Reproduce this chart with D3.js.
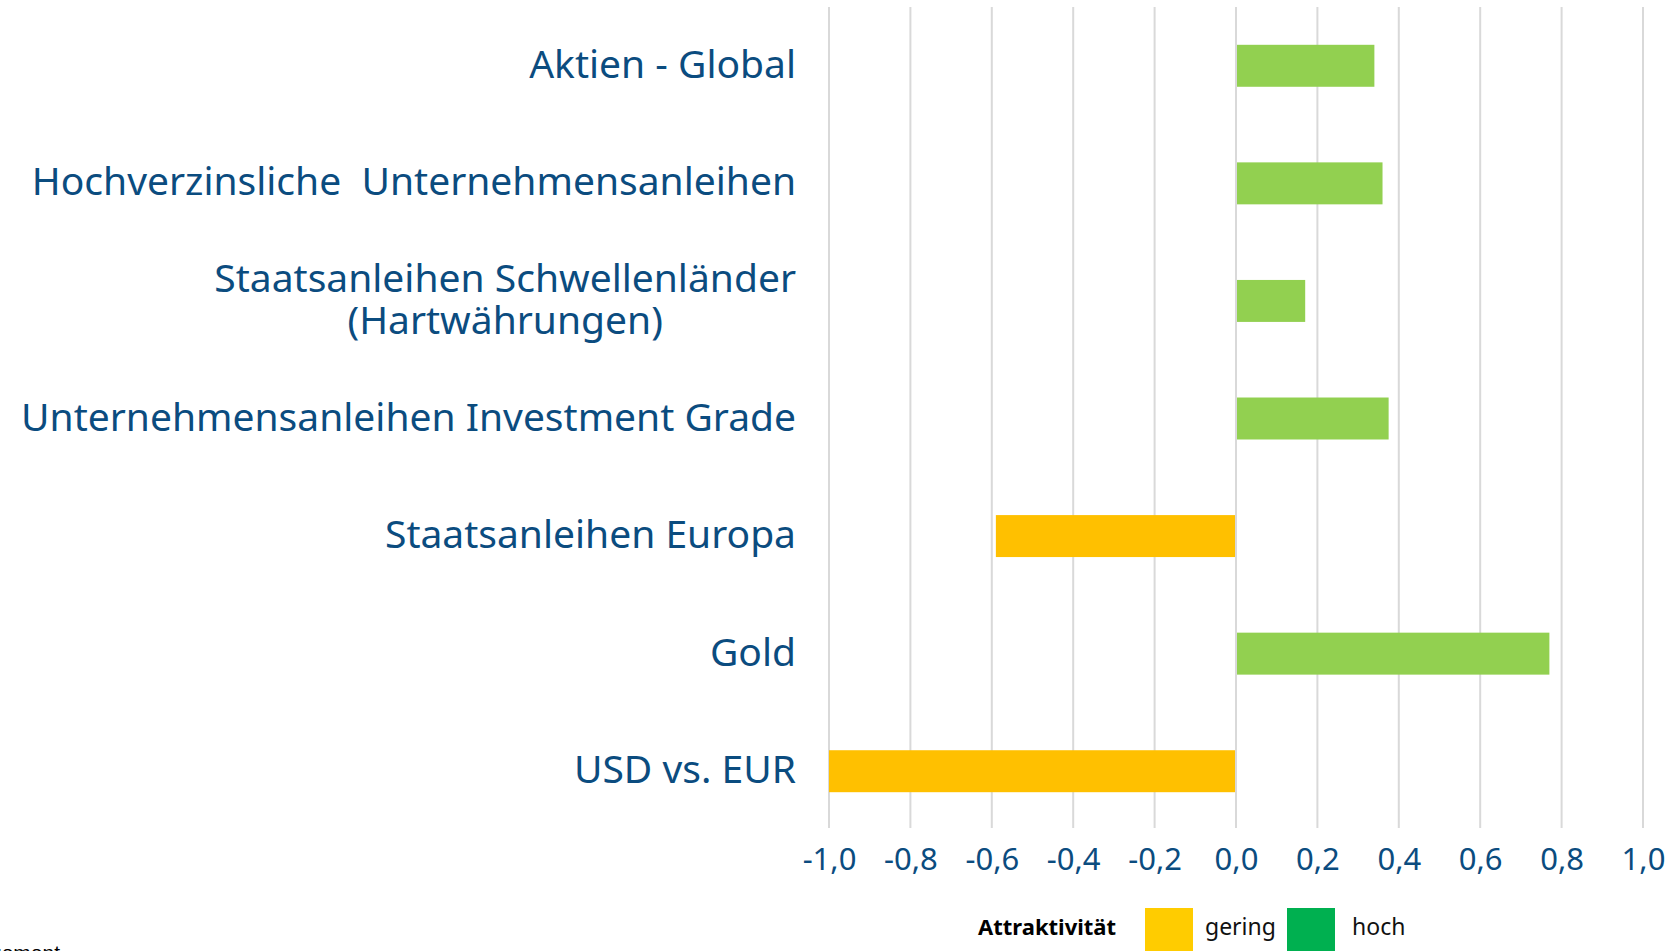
<!DOCTYPE html>
<html>
<head>
<meta charset="utf-8">
<script src="https://cdn.jsdelivr.net/npm/d3@7"></script>
<style>
  body { margin: 0; background: #fff; }
  svg { display: block; }
</style>
</head>
<body>
<div id="canvas"></div>
<script>
// Daten
const categories = [
  ["Aktien - Global"],
  ["Hochverzinsliche\u00a0 Unternehmensanleihen"],
  ["Staatsanleihen Schwellenländer", "(Hartwährungen)"],
  ["Unternehmensanleihen Investment Grade"],
  ["Staatsanleihen Europa"],
  ["Gold"],
  ["USD vs. EUR"]
];
const values = [0.34, 0.36, 0.17, 0.375, -0.59, 0.77, -1.0];
const tickValues = [-1, -0.8, -0.6, -0.4, -0.2, 0, 0.2, 0.4, 0.6, 0.8, 1];
const legendItems = ["gering", "hoch"];

const width = 1670;
const height = 951;
const blue = "#0b4c7f";
const font = "'Noto Sans', 'Open Sans', sans-serif";

const svg = d3.select("#canvas").append("svg")
  .attr("width", width)
  .attr("height", height);

const x = d3.scaleLinear()
  .domain([-1, 1])
  .range([829, 1643]);

const y = d3.scaleBand()
  .domain(d3.range(categories.length))
  .range([7, 830])
  .paddingInner(0.643)
  .paddingOuter(0.3215);

const de = d3.formatLocale({decimal: ",", thousands: ".", grouping: [3], currency: ["", "€"], minus: "-"});
const fmt = de.format(".1f");

// Gitterlinien
svg.append("g")
  .selectAll("line")
  .data(tickValues)
  .join("line")
  .attr("x1", d => x(d))
  .attr("x2", d => x(d))
  .attr("y1", 7)
  .attr("y2", 828)
  .attr("stroke", "#d9d9d9")
  .attr("stroke-width", 2);

// Balken
svg.append("g")
  .selectAll("rect")
  .data(values)
  .join("rect")
  .attr("x", d => d < 0 ? x(d) : x(0) + 1)
  .attr("y", (d, i) => y(i))
  .attr("width", d => Math.abs(x(d) - x(0)) - 1)
  .attr("height", y.bandwidth())
  .attr("fill", d => d < 0 ? "#ffc000" : "#92d050");

// x-Achse
const xAxis = svg.append("g")
  .attr("transform", "translate(0,828)")
  .call(d3.axisBottom(x).tickValues(tickValues).tickFormat(fmt).tickSize(0).tickPadding(20));
xAxis.select(".domain").remove();
xAxis.selectAll("text")
  .attr("fill", blue)
  .style("font-family", font)
  .style("font-size", "31px");

// Kategorien
const labelRight = 796;
const fontSize = 39;
const labels = svg.append("g")
  .selectAll("text")
  .data(categories)
  .join("text")
  .attr("fill", blue)
  .style("font-family", font)
  .style("font-size", fontSize + "px")
  .attr("text-anchor", "middle");

labels.each(function(lines, i) {
  const t = d3.select(this);
  const c = y(i) + y.bandwidth() / 2;
  const lh = 42;
  const y0 = c - (lines.length - 1) * lh / 2 + 12;
  lines.forEach((s, j) => {
    t.append("tspan").attr("y", y0 + j * lh).text(s);
  });
  let w = 0;
  t.selectAll("tspan").each(function() { w = Math.max(w, this.getComputedTextLength()); });
  t.selectAll("tspan").attr("x", labelRight - w / 2);
});

// Legende
const legend = svg.append("g");
legend.append("text")
  .attr("x", 978)
  .attr("y", 935)
  .attr("font-weight", "bold")
  .style("font-family", font)
  .style("font-size", "22px")
  .text("Attraktivität");
const legendColors = ["#ffcc00", "#00b050"];
const legendX = [1145, 1287];
legendItems.forEach((name, i) => {
  legend.append("rect")
    .attr("x", legendX[i])
    .attr("y", 908)
    .attr("width", 48)
    .attr("height", 50)
    .attr("fill", legendColors[i]);
  legend.append("text")
    .attr("x", legendX[i] + (i === 0 ? 60 : 65))
    .attr("y", 935)
    .style("font-family", font)
    .style("font-size", "23px")
    .attr("fill", "#111")
    .text(name);
});

// Quelle (abgeschnitten)
svg.append("text")
  .attr("x", 60)
  .attr("y", 960)
  .attr("text-anchor", "end")
  .style("font-family", "'Liberation Sans', sans-serif")
  .style("font-size", "21px")
  .text("Asset Management");
</script>
</body>
</html>
